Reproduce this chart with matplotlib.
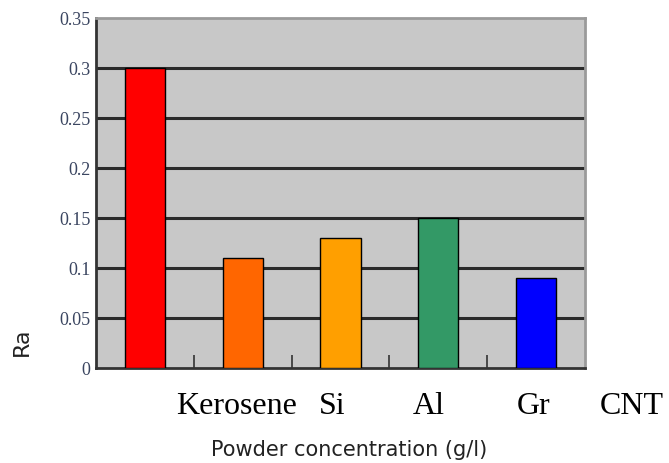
import matplotlib
matplotlib.use("Agg")
import matplotlib.pyplot as plt
import matplotlib.transforms as mtransforms

# Chart data
ra_values = [0.30, 0.11, 0.13, 0.15, 0.09]
bar_colors = ["#ff0000", "#ff6600", "#ff9f00", "#339966", "#0000ff"]
label_names = ["Kerosene", "Si", "Al", "Gr", "CNT"]
y_ticks = [0, 0.05, 0.1, 0.15, 0.2, 0.25, 0.3, 0.35]

fig = plt.figure(figsize=(6.69, 4.63), dpi=100)
ax = fig.add_axes([0.1435, 0.205, 0.7309, 0.756])
ax.set_facecolor("#c8c8c8")

positions = list(range(len(ra_values)))
ax.bar(positions, ra_values, width=0.41, color=bar_colors,
       edgecolor="black", linewidth=1.0, zorder=3)

ax.set_xlim(-0.5, len(ra_values) - 0.5)
ax.set_ylim(0, 0.35)

# Grid lines
ax.set_yticks(y_ticks)
ax.set_yticklabels(["0", "0.05", "0.1", "0.15", "0.2", "0.25", "0.3", "0.35"],
                   family="Liberation Serif", fontsize=13, color="#3a4560")
for y in y_ticks[1:-1]:
    ax.axhline(y, color="#2a2a2a", linewidth=2.2, zorder=1)
ax.tick_params(axis="y", direction="in", length=0, pad=4)

# Category boundary ticks along the bottom
ax.set_xticks([p + 0.5 for p in positions[:-1]])
ax.set_xticklabels([])
ax.tick_params(axis="x", direction="in", length=9.5, width=1.2, color="#333333")

for side in ["left", "bottom"]:
    ax.spines[side].set_color("#333333")
    ax.spines[side].set_linewidth(2)
for side in ["top", "right"]:
    ax.spines[side].set_color("#9a9a9a")
    ax.spines[side].set_linewidth(2)

# Category labels (shifted one slot right of the bars)
nudges = [-0.06, -0.08, -0.1, -0.03, -0.02]
trans = mtransforms.blended_transform_factory(ax.transData, fig.transFigure)
for i, name in enumerate(label_names):
    ax.text(i + 1 + nudges[i], 0.123, name, transform=trans, ha="center",
            va="center", family="Liberation Serif", fontsize=23, color="black",
            clip_on=False)

fig.text(0.522, 0.028, "Powder concentration (g/l)", ha="center", va="center",
         fontsize=15, color="#222222")
fig.text(0.032, 0.262, "Ra", ha="center", va="center", rotation=90,
         fontsize=16, color="#222222")

fig.savefig("out.png", dpi=100)
